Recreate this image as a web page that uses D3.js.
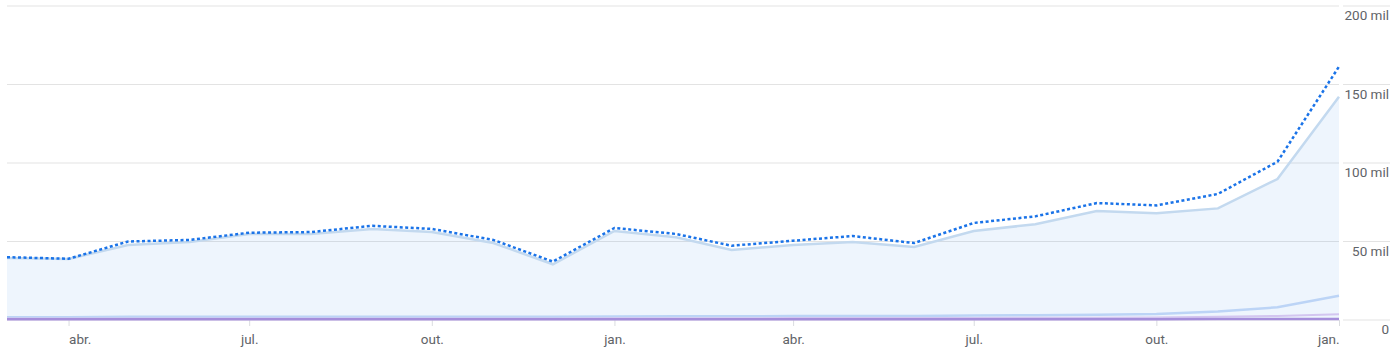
<!DOCTYPE html>
<head>
  <meta charset="utf-8">
  <script src="https://d3js.org/d3.v7.min.js"></script>
  <style>
    body { margin: 0; background: #fff; }
    text { font-family: Roboto, "Noto Sans", sans-serif; }
  </style>
</head>
<body>
<svg width="1399" height="353"></svg>
<script>
// monthly points, Mar -> Jan of the year after next
var months = ["2022-03", "2022-04", "2022-05", "2022-06", "2022-07", "2022-08", "2022-09", "2022-10",
  "2022-11", "2022-12", "2023-01", "2023-02", "2023-03", "2023-04", "2023-05", "2023-06",
  "2023-07", "2023-08", "2023-09", "2023-10", "2023-11", "2023-12", "2024-01"];

// values in thousands
var total = [40, 39, 50, 51, 55.6, 56, 60, 58, 51, 37.2, 58.6, 54.8, 47.3, 50.5, 53.5, 49,
  61.8, 66, 74.5, 73, 80.3, 100.8, 161.4];
var main = [39.5, 38.9, 47.8, 49.7, 54.8, 54.8, 58, 56, 49, 35.5, 56.7, 52.7, 44.6, 47.8, 49.7, 46.5,
  56.7, 61, 69.4, 68, 71.1, 89.8, 142.2];
var second = [1.8, 1.8, 2, 2, 2, 2, 2.1, 2.1, 2.1, 2.1, 2.3, 2.4, 2.4, 2.5, 2.6, 2.6,
  2.9, 3.1, 3.4, 3.8, 5.4, 8.1, 15.5];
var third = [0.9, 0.9, 1, 1, 1, 1, 1, 1, 1, 1, 1.1, 1.1, 1.1, 1.2, 1.2, 1.2,
  1.3, 1.4, 1.5, 1.6, 2, 2.6, 3.6];
var fourth = [0.5, 0.5, 0.5, 0.5, 0.5, 0.5, 0.5, 0.5, 0.5, 0.5, 0.5, 0.5, 0.5, 0.5, 0.5, 0.5,
  0.5, 0.5, 0.5, 0.5, 0.6, 0.6, 0.7];

var xTicks = ["2022-04", "2022-07", "2022-10", "2023-01", "2023-04", "2023-07", "2023-10", "2024-01"];
var xLabels = ["abr.", "jul.", "out.", "jan.", "abr.", "jul.", "out.", "jan."];
var yTicks = [0, 50, 100, 150, 200];
var yLabels = ["0", "50 mil", "100 mil", "150 mil", "200 mil"];

var parse = d3.utcParse("%Y-%m");
var dates = months.map(parse);

var svg = d3.select("svg"),
    plotLeft = 7, plotRight = 1339, plotTop = 6, plotBottom = 320;

var x = d3.scaleUtc().domain(d3.extent(dates)).range([plotLeft, plotRight]);
var y = d3.scaleLinear().domain([0, 200]).range([plotBottom, plotTop]);

// grid + right axis labels
var grid = svg.append("g");
yTicks.forEach(function(t, i) {
  grid.append("line")
    .attr("x1", plotLeft).attr("x2", plotRight)
    .attr("y1", y(t)).attr("y2", y(t))
    .attr("stroke", "#e3e3e3").attr("stroke-width", 1);
  grid.append("line")
    .attr("x1", plotRight + 4).attr("x2", 1390)
    .attr("y1", y(t)).attr("y2", y(t))
    .attr("stroke", "#e3e3e3").attr("stroke-width", 1);
  grid.append("text")
    .attr("x", 1389).attr("y", y(t) + 14)
    .attr("text-anchor", "end")
    .attr("font-size", 13.5)
    .attr("fill", "#5f6368")
    .text(yLabels[i]);
});

// x axis
var xAxis = svg.append("g")
  .attr("transform", "translate(0," + plotBottom + ")")
  .call(d3.axisBottom(x)
    .tickValues(xTicks.map(parse))
    .tickSize(6)
    .tickPadding(8)
    .tickFormat(function(d, i) { return xLabels[i]; }));
xAxis.select(".domain").remove();
xAxis.selectAll("line").attr("stroke", "#dadce0");
xAxis.selectAll("text")
  .attr("fill", "#5f6368")
  .attr("font-size", 13.5)
  .attr("font-family", "Roboto, 'Noto Sans', sans-serif")
  .attr("text-anchor", function(d, i) { return i === 0 ? "start" : (i === xTicks.length - 1 ? "end" : "middle"); });

var line = function(arr) {
  return d3.line()
    .x(function(d, i) { return x(dates[i]); })
    .y(function(d) { return y(d); })(arr);
};

var area = d3.area()
  .x(function(d, i) { return x(dates[i]); })
  .y0(plotBottom)
  .y1(function(d) { return y(d); });

svg.append("path")
  .attr("d", area(main))
  .attr("fill", "#1a73e8")
  .attr("fill-opacity", 0.075);

svg.append("path")
  .attr("d", line(main))
  .attr("fill", "none")
  .attr("stroke", "#c3d9ef")
  .attr("stroke-width", 2.5);

svg.append("path")
  .attr("d", line(second))
  .attr("fill", "none")
  .attr("stroke", "#bcd4f6")
  .attr("stroke-width", 2.5);

svg.append("path")
  .attr("d", line(third))
  .attr("fill", "none")
  .attr("stroke", "#d3c6f0")
  .attr("stroke-width", 2);

svg.append("path")
  .attr("d", line(fourth))
  .attr("fill", "none")
  .attr("stroke", "#a58edb")
  .attr("stroke-width", 2.5);

svg.append("path")
  .attr("d", line(total))
  .attr("fill", "none")
  .attr("stroke", "#1a73e8")
  .attr("stroke-width", 2.5)
  .attr("stroke-dasharray", "3,2.5");
</script>
</body>
